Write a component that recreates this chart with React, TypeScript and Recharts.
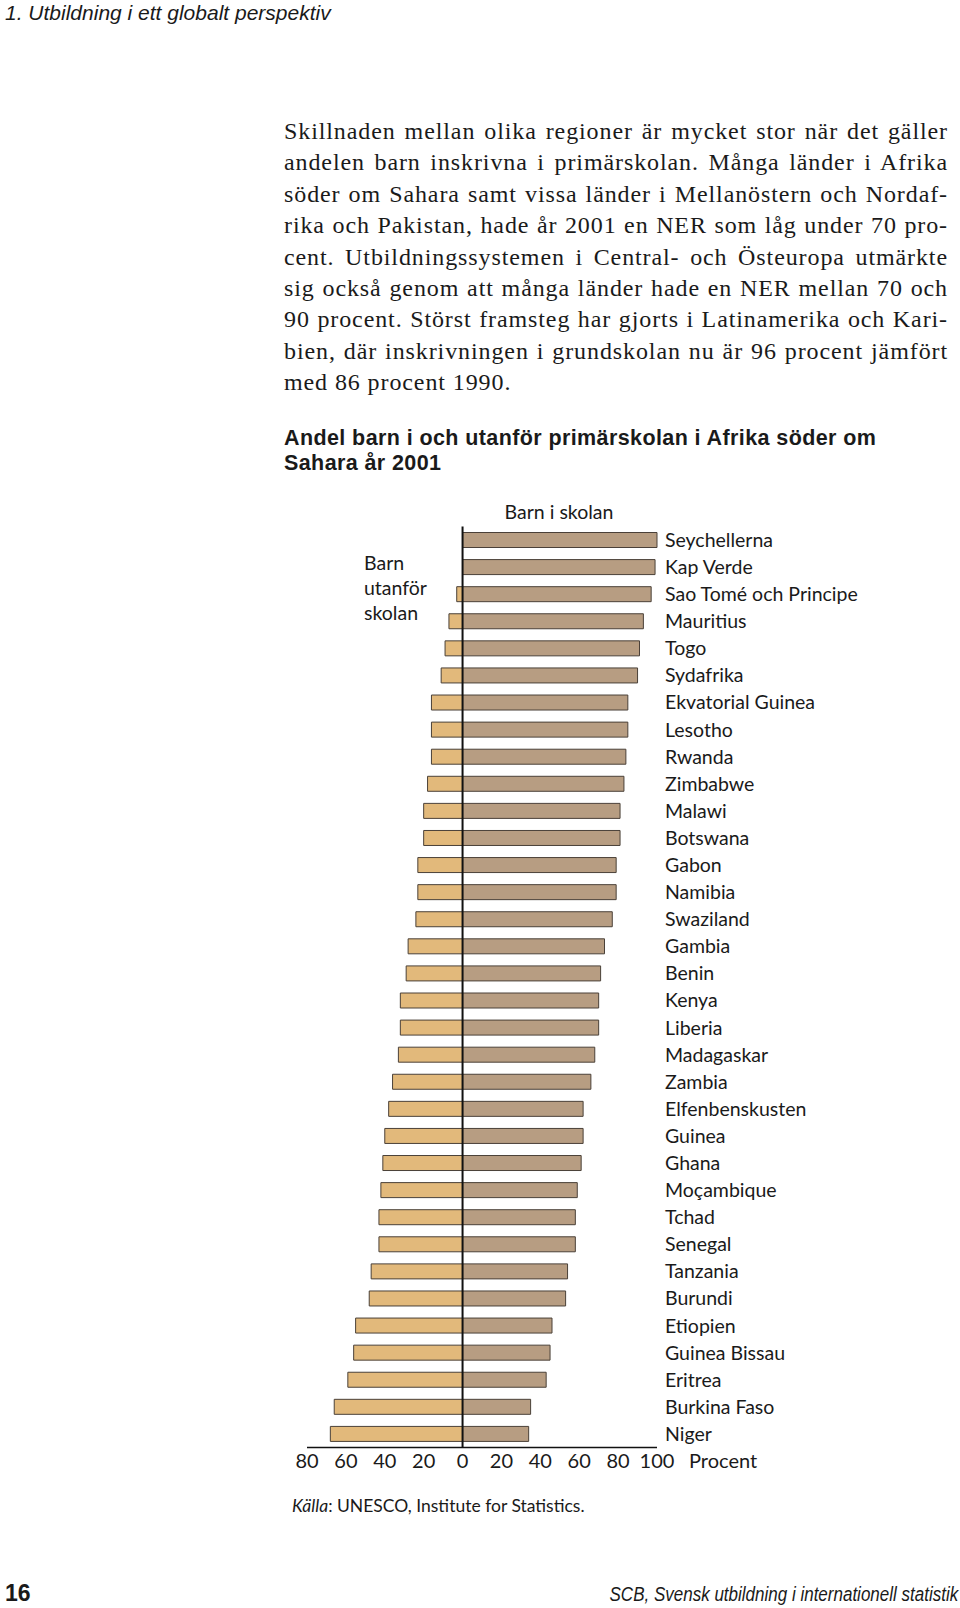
import { Bar, BarChart, ReferenceLine, XAxis, YAxis } from "recharts";

const countries = [
  "Seychellerna", "Kap Verde", "Sao Tomé och Principe", "Mauritius", "Togo", "Sydafrika",
  "Ekvatorial Guinea", "Lesotho", "Rwanda", "Zimbabwe", "Malawi", "Botswana", "Gabon",
  "Namibia", "Swaziland", "Gambia", "Benin", "Kenya", "Liberia", "Madagaskar", "Zambia",
  "Elfenbenskusten", "Guinea", "Ghana", "Moçambique", "Tchad", "Senegal", "Tanzania",
  "Burundi", "Etiopien", "Guinea Bissau", "Eritrea", "Burkina Faso", "Niger",
];

// Barn i skolan (procent)
const inSchool = [
  100, 99, 97, 93, 91, 90, 85, 85, 84, 83, 81, 81, 79, 79, 77, 73, 71, 70, 70, 68, 66,
  62, 62, 61, 59, 58, 58, 54, 53, 46, 45, 43, 35, 34,
];

// Barn utanför skolan (procent)
const outOfSchool = [
  0, 0, 3, 7, 9, 11, 16, 16, 16, 18, 20, 20, 23, 23, 24, 28, 29, 32, 32, 33, 36,
  38, 40, 41, 42, 43, 43, 47, 48, 55, 56, 59, 66, 68,
];

const xTicks = [-80, -60, -40, -20, 0, 20, 40, 60, 80, 100];

const data = countries.map((country, i) => ({
  country,
  inne: inSchool[i],
  ute: -outOfSchool[i],
}));

const sans = "Lato, 'Open Sans', sans-serif";
const serif = "'Liberation Serif', 'DejaVu Serif', serif";
const narrow = "'Liberation Sans Narrow', 'Liberation Sans', sans-serif";

const paragraph = [
  "Skillnaden mellan olika regioner är mycket stor när det gäller",
  "andelen barn inskrivna i primärskolan. Många länder i Afrika",
  "söder om Sahara samt vissa länder i Mellanöstern och Nordaf-",
  "rika och Pakistan, hade år 2001 en NER som låg under 70 pro-",
  "cent. Utbildningssystemen i Central- och Östeuropa utmärkte",
  "sig också genom att många länder hade en NER mellan 70 och",
  "90 procent. Störst framsteg har gjorts i Latinamerika och Kari-",
  "bien, där inskrivningen i grundskolan nu är 96 procent jämfört",
  "med 86 procent 1990.",
];

const abs = (top: number, left: number, extra: React.CSSProperties = {}): React.CSSProperties => ({
  position: "absolute",
  top,
  left,
  whiteSpace: "nowrap",
  color: "#1a1a1a",
  ...extra,
});

export default function App() {
  return (
    <div style={{ position: "absolute", left: 0, top: 0, width: 960, height: 1608, background: "#fff", overflow: "hidden" }}>
      <div style={abs(0, 5, { fontFamily: narrow, fontStyle: "italic", fontSize: 21, lineHeight: "26px" })}>
        1. Utbildning i ett globalt perspektiv
      </div>

      <div
        style={{
          position: "absolute",
          left: 284,
          top: 116,
          width: 664,
          fontFamily: serif,
          fontSize: 24,
          letterSpacing: 0.9,
          lineHeight: "31.4px",
          color: "#1a1a1a",
        }}
      >
        {paragraph.map((line, i) => (
          <div
            key={i}
            style={{
              textAlign: "justify",
              textAlignLast: i < paragraph.length - 1 ? "justify" : "left",
              whiteSpace: "nowrap",
            }}
          >
            {line}
          </div>
        ))}
      </div>

      <div
        style={abs(426, 284, {
          fontFamily: "'Liberation Sans', Arial, sans-serif",
          fontWeight: 700,
          fontSize: 21.5,
          lineHeight: "25px",
          letterSpacing: 0.4,
        })}
      >
        Andel barn i och utanför primärskolan i Afrika söder om
        <br />
        Sahara år 2001
      </div>

      <BarChart
        width={960}
        height={1608}
        data={data}
        layout="vertical"
        stackOffset="sign"
        barSize={15}
        margin={{ top: 526.5, right: 53, bottom: 130.5, left: 307 }}
        style={{ position: "absolute", left: 0, top: 0 }}
      >
        <XAxis
          type="number"
          domain={[-80, 100]}
          ticks={xTicks}
          tickFormatter={(v: number) => String(Math.abs(v))}
          axisLine={{ stroke: "#111", strokeWidth: 1.5 }}
          tickLine={false}
          tickMargin={0}
          height={30}
          tick={{ fontSize: 20, fill: "#1a1a1a", fontFamily: sans }}
        />
        <YAxis
          type="category"
          dataKey="country"
          orientation="right"
          width={250}
          interval={0}
          axisLine={false}
          tickLine={false}
          tick={{ fontSize: 19.5, fill: "#1a1a1a", fontFamily: sans }}
        />
        <Bar dataKey="ute" stackId="a" fill="#e2b97b" stroke="#4a4038" strokeWidth={1} isAnimationActive={false} />
        <Bar dataKey="inne" stackId="a" fill="#b79d82" stroke="#4a4038" strokeWidth={1} isAnimationActive={false} />
        <ReferenceLine x={0} stroke="#111" strokeWidth={2} />
      </BarChart>

      <div style={abs(499, 559, { fontFamily: sans, fontSize: 19.5, lineHeight: "26px", transform: "translateX(-50%)" })}>
        Barn i skolan
      </div>
      <div style={abs(550, 364, { fontFamily: sans, fontSize: 19.5, lineHeight: "25px" })}>
        Barn
        <br />
        utanför
        <br />
        skolan
      </div>
      <div style={abs(1447, 689, { fontFamily: sans, fontSize: 20, lineHeight: "26px" })}>Procent</div>

      <div style={abs(1494, 292, { fontFamily: sans, fontSize: 17.5, lineHeight: "24px" })}>
        <i>Källa</i>: UNESCO, Institute for Statistics.
      </div>

      <div style={abs(1579, 5, { fontFamily: narrow, fontWeight: 700, fontSize: 23, lineHeight: "28px" })}>16</div>
      <div
        style={abs(1581, 0, {
          left: "auto",
          right: 2,
          fontFamily: narrow,
          fontStyle: "italic",
          fontSize: 20,
          lineHeight: "26px",
          transform: "scaleX(0.85)",
          transformOrigin: "right center",
        })}
      >
        SCB, Svensk utbildning i internationell statistik
      </div>
    </div>
  );
}
